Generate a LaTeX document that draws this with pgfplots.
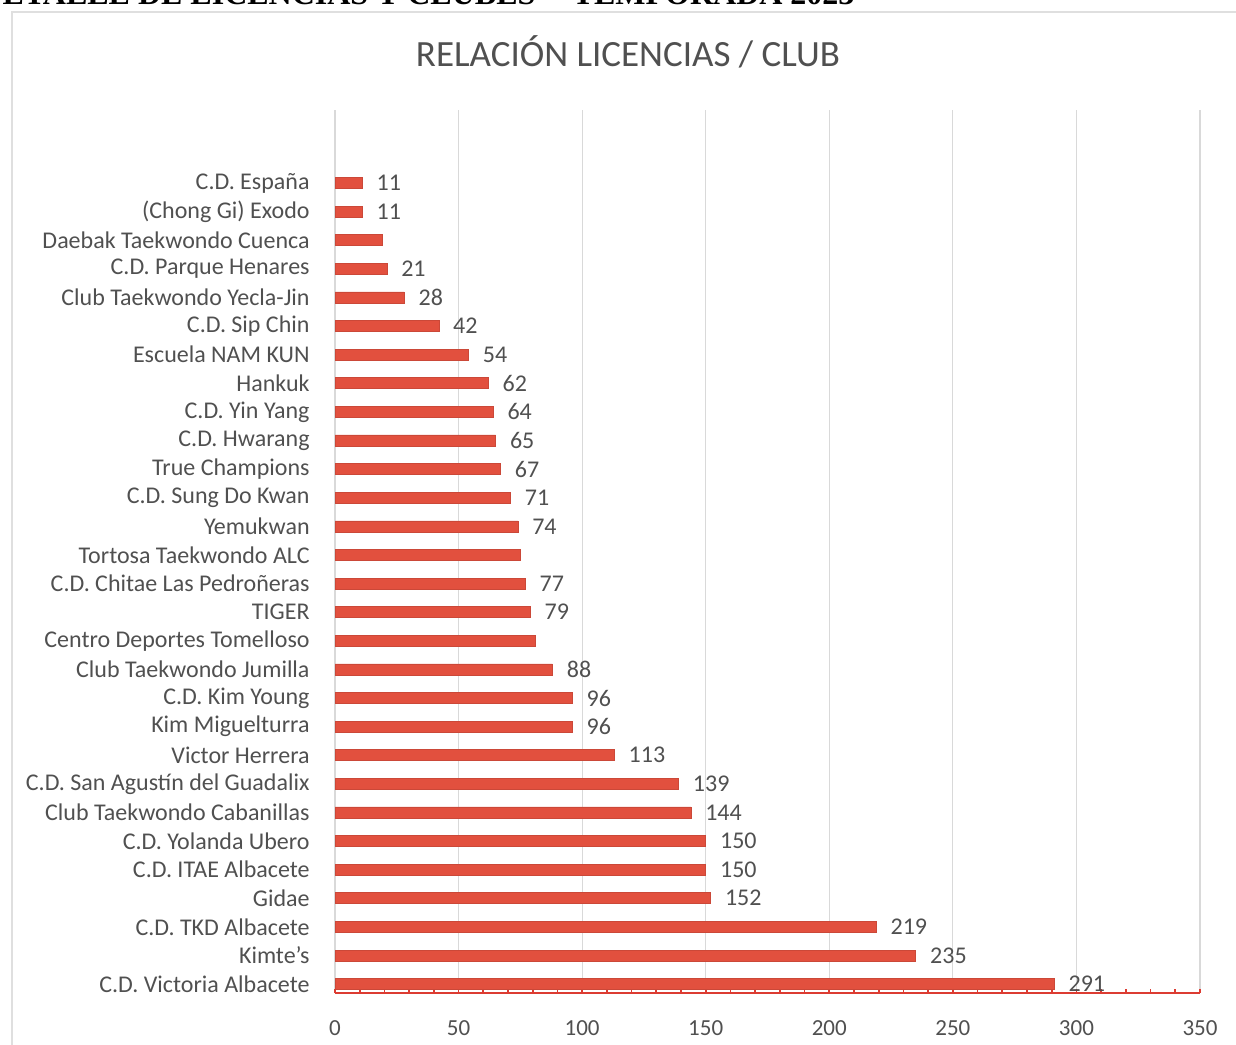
\documentclass[border=0pt]{standalone}
\usepackage{pgfplots}
\pgfplotsset{compat=1.18}
\usepackage{fontspec}
\setmainfont{Carlito}
\newfontfamily\hdrfont{Liberation Serif}
\definecolor{barred}{RGB}{226,80,62}
\definecolor{txtgray}{RGB}{80,80,80}
\definecolor{axred}{RGB}{220,60,50}
\begin{document}
\begin{tikzpicture}[x=1pt,y=1pt]
% outer frame of the sheet chart
\draw[gray!25, line width=0.6pt] (6pt,-10pt) -- (6pt,516pt) -- (640pt,516pt);
% cut-off header
\node[anchor=base east, inner sep=0pt, font=\hdrfont\bfseries\fontsize{16}{19}\selectfont] at (427.5pt,519.5pt) {DETALLE DE LICENCIAS Y CLUBES -- TEMPORADA 2023};
% title
\node[font=\fontsize{18.5}{22}\selectfont, text=txtgray] at (314pt,496pt) {RELACIÓN LICENCIAS / CLUB};
\begin{axis}[
  at={(167.5pt,25.5pt)}, anchor=south west,
  scale only axis, width=432.5pt, height=441.5pt,
  xbar, bar width=5.5pt, bar shift=0pt,
  xmin=0, xmax=350, ymin=-0.31, ymax=30.55,
  xtick={0,50,...,350}, minor x tick num=4,
  xmajorgrids, grid style={gray!30, line width=0.6pt},
  axis lines*=left,
  y axis line style={draw=none},
  x axis line style={draw=axred, line width=1.2pt},
  tick align=inside,
  major tick length=2.2pt, minor tick length=2.2pt,
  x tick style={axred, line width=0.8pt},
  y tick style={draw=none},
  ytick={0,...,28},
  yticklabels={C.D. Victoria Albacete, Kimte’s, C.D. TKD Albacete, Gidae, C.D. ITAE Albacete, C.D. Yolanda Ubero, Club Taekwondo Cabanillas, C.D. San Agustín del Guadalix, Victor Herrera, Kim Miguelturra, C.D. Kim Young, Club Taekwondo Jumilla, Centro Deportes Tomelloso, TIGER, C.D. Chitae Las Pedroñeras, Tortosa Taekwondo ALC, Yemukwan, C.D. Sung Do Kwan, True Champions, C.D. Hwarang, C.D. Yin Yang, Hankuk, Escuela NAM KUN, C.D. Sip Chin, Club Taekwondo Yecla-Jin, C.D. Parque Henares, Daebak Taekwondo Cuenca, (Chong Gi) Exodo, C.D. España},
  yticklabel style={anchor=east, inner sep=0pt, xshift=-12.5pt, font=\fontsize{12}{14}\selectfont, text=txtgray},
  xticklabel style={anchor=north, inner sep=0pt, yshift=-13.5pt, font=\fontsize{11.5}{14}\selectfont, text=txtgray},
  /pgf/number format/assume math mode=true,
  clip=false,
]
\addplot[fill=barred, draw=barred!90!black, line width=0.3pt] coordinates {
(291,0) (235,1) (219,2) (152,3) (150,4) (150,5) (144,6) (139,7) (113,8) (96,9) (96,10) (88,11) (81,12) (79,13) (77,14) (75,15) (74,16) (71,17) (67,18) (65,19) (64,20) (62,21) (54,22) (42,23) (28,24) (21,25) (19,26) (11,27) (11,28)
};
\addplot[draw=none, fill=none, point meta=x, nodes near coords,
  nodes near coords style={anchor=west, inner sep=0pt, xshift=7pt, font=\fontsize{12}{14}\selectfont, text=txtgray},
  /pgf/number format/assume math mode=true] coordinates {
(291,0) (235,1) (219,2) (152,3) (150,4) (150,5) (144,6) (139,7) (113,8) (96,9) (96,10) (88,11) (79,13) (77,14) (74,16) (71,17) (67,18) (65,19) (64,20) (62,21) (54,22) (42,23) (28,24) (21,25) (11,27) (11,28)
};
\end{axis}
\pgfresetboundingbox
\path[use as bounding box] (0pt,0pt) rectangle (618pt,522pt);
\end{tikzpicture}
\end{document}
